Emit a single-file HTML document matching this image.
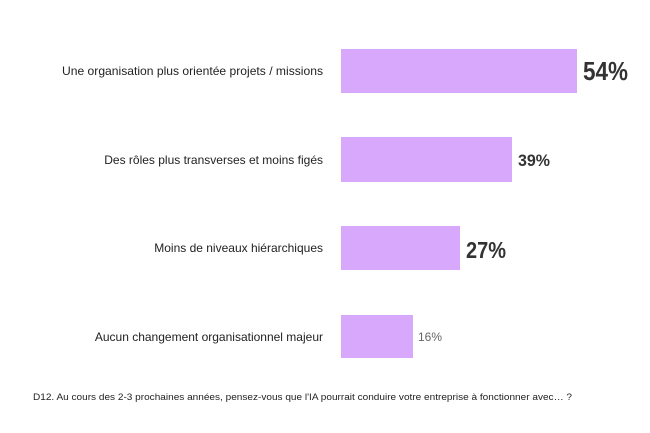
<!DOCTYPE html>
<html><head><meta charset="utf-8"><style>
html,body{margin:0;padding:0;background:#fff;}
svg{display:block;font-family:"Liberation Sans",Arial,sans-serif;}
</style></head><body>
<svg width="650" height="433" viewBox="0 0 650 433" xmlns="http://www.w3.org/2000/svg">
<rect width="650" height="433" fill="#fff"/>
<g fill="#d8a8fc">
<rect x="341" y="49" width="236" height="44"/>
<rect x="341" y="137" width="171" height="45"/>
<rect x="341" y="226" width="119" height="44"/>
<rect x="341" y="315" width="72" height="43"/>
</g>
<g fill="#222" font-size="12" text-anchor="end">
<text x="323" y="75" textLength="261" lengthAdjust="spacingAndGlyphs">Une organisation plus orientée projets / missions</text>
<text x="323" y="164">Des rôles plus transverses et moins figés</text>
<text x="323" y="252">Moins de niveaux hiérarchiques</text>
<text x="323" y="341">Aucun changement organisationnel majeur</text>
</g>
<text x="583" y="80" font-size="26" font-weight="bold" fill="#333" textLength="45" lengthAdjust="spacingAndGlyphs">54%</text>
<text x="518" y="166" font-size="17" font-weight="bold" fill="#333" textLength="32" lengthAdjust="spacingAndGlyphs">39%</text>
<text x="466" y="258" font-size="23" font-weight="bold" fill="#333" textLength="40" lengthAdjust="spacingAndGlyphs">27%</text>
<text x="418" y="341" font-size="12" fill="#666" textLength="24" lengthAdjust="spacingAndGlyphs">16%</text>
<text x="33" y="400" font-size="9" fill="#222" textLength="539" lengthAdjust="spacingAndGlyphs">D12. Au cours des 2-3 prochaines années, pensez-vous que l'IA pourrait conduire votre entreprise à fonctionner avec… ?</text>
</svg>
</body></html>
